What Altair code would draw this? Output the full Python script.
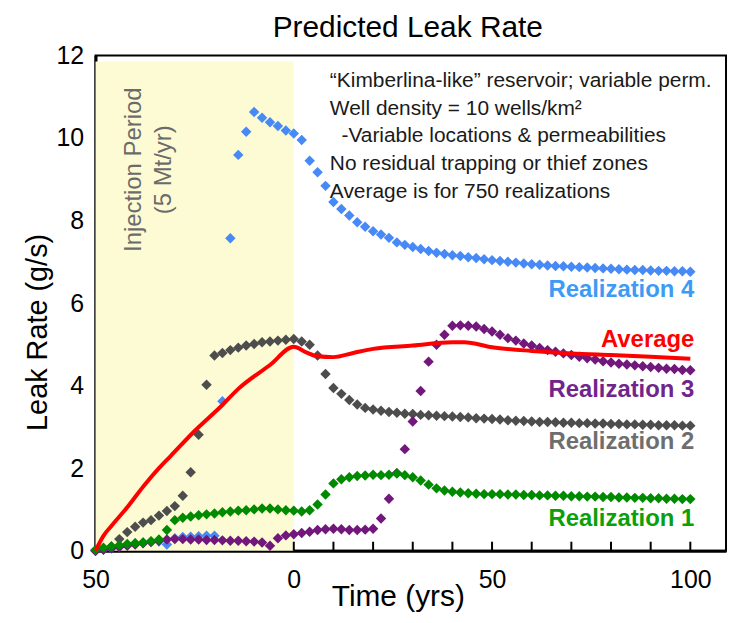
import altair as alt
import pandas as pd

# ---------------- data ----------------
years = list(range(-50, 101, 2))

# Realization 1 (green)
real1 = [0.02, 0.07, 0.10, 0.13, 0.16, 0.18, 0.20, 0.23, 0.27, 0.50,
         0.74, 0.80, 0.83, 0.86, 0.88, 0.90, 0.93, 0.95, 0.97, 0.98,
         1.00, 1.02, 1.02, 1.00, 0.98, 0.97, 0.95, 0.98, 1.12, 1.36,
         1.63, 1.73, 1.78, 1.81, 1.82, 1.84, 1.83, 1.84, 1.87, 1.83,
         1.78, 1.70, 1.60, 1.51, 1.46, 1.43, 1.41, 1.39, 1.38, 1.37,
         1.37, 1.37, 1.36, 1.36, 1.35, 1.35, 1.34, 1.34, 1.33, 1.33,
         1.32, 1.32, 1.31, 1.31, 1.30, 1.30, 1.29, 1.29, 1.28, 1.28,
         1.27, 1.27, 1.26, 1.26, 1.25, 1.25]

# Realization 2 (grey)
real2 = [0.00, 0.03, 0.10, 0.28, 0.45, 0.58, 0.68, 0.74, 0.85, 0.96,
         1.08, 1.33, 1.90, 2.81, 4.02, 4.73, 4.79, 4.86, 4.92, 4.97,
         5.01, 5.05, 5.07, 5.09, 5.11, 5.13, 5.07, 4.99, 4.73, 4.28,
         3.94, 3.80, 3.65, 3.54, 3.46, 3.42, 3.39, 3.36, 3.34, 3.32,
         3.31, 3.29, 3.28, 3.27, 3.26, 3.25, 3.24, 3.23, 3.21, 3.20,
         3.19, 3.18, 3.16, 3.15, 3.14, 3.13, 3.12, 3.12, 3.11, 3.10,
         3.10, 3.09, 3.09, 3.08, 3.08, 3.07, 3.07, 3.06, 3.06, 3.05,
         3.05, 3.04, 3.04, 3.04, 3.03, 3.03]

# Realization 3 (purple)
real3 = [0.00, 0.03, 0.06, 0.09, 0.12, 0.15, 0.18, 0.21, 0.24, 0.27,
         0.28, 0.28, 0.27, 0.27, 0.26, 0.26, 0.25, 0.24, 0.24, 0.23,
         0.22, 0.20, 0.12, 0.30, 0.37, 0.40, 0.43, 0.46, 0.50, 0.52,
         0.53, 0.52, 0.50, 0.50, 0.51, 0.53, 0.78, 1.26, 1.88, 2.46,
         3.13, 3.87, 4.58, 4.99, 5.23, 5.45, 5.46, 5.45, 5.43, 5.37,
         5.31, 5.23, 5.15, 5.09, 5.02, 4.97, 4.91, 4.86, 4.82, 4.78,
         4.74, 4.70, 4.66, 4.63, 4.59, 4.56, 4.53, 4.51, 4.49, 4.47,
         4.45, 4.43, 4.41, 4.40, 4.38, 4.37]

# Realization 4 (blue)
real4 = [0.00, 0.03, 0.06, 0.10, 0.14, 0.18, 0.20, 0.22, 0.22, 0.15,
         0.30, 0.33, 0.34, 0.35, 0.36, 0.36, 3.62, 7.57, 9.59, 10.15,
         10.63, 10.49, 10.38, 10.29, 10.18, 10.11, 9.95, 9.45, 9.17, 8.84,
         8.45, 8.28, 8.12, 7.96, 7.85, 7.74, 7.66, 7.58, 7.47, 7.41,
         7.36, 7.31, 7.26, 7.22, 7.19, 7.16, 7.14, 7.11, 7.09, 7.06,
         7.04, 7.02, 7.00, 6.98, 6.96, 6.94, 6.93, 6.91, 6.90, 6.89,
         6.88, 6.87, 6.86, 6.85, 6.84, 6.83, 6.82, 6.81, 6.80, 6.80,
         6.79, 6.78, 6.78, 6.77, 6.77, 6.76]

# Average of 750 realizations (red line)
avg_t = [-50, -48, -46, -42, -38, -34, -31, -25, -18, -14, -6, 0,
         3, 6, 10, 15, 20, 30, 40, 43, 50, 60, 70, 80, 90, 100]
avg_v = [0.00, 0.36, 0.60, 1.05, 1.55, 2.00, 2.30, 2.90, 3.53, 3.92, 4.50, 4.94,
         4.81, 4.71, 4.69, 4.79, 4.89, 4.97, 5.05, 5.05, 4.93, 4.84, 4.78, 4.74, 4.70, 4.65]

series_names = ["Realization 4", "Realization 2", "Realization 3", "Realization 1"]
series_values = [real4, real2, real3, real1]
marker_colors = ["#4789f5", "#4d4d4d", "#72177c", "#008a00"]

label_names = ["Realization 4", "Average", "Realization 3", "Realization 2", "Realization 1"]
label_y = [6.31, 5.11, 3.90, 2.63, 0.77]
label_colors = ["#3d9bf5", "#ff0000", "#72248a", "#6e6e6e", "#0aa00a"]

injection_start, injection_end = -50, 0
x_ticks = [-50, 0, 50, 100]
minor_ticks = list(range(0, 101, 10))
y_ticks = [0, 2, 4, 6, 8, 10, 12]

chart_title = ["Predicted Leak Rate"]
injection_text = ["Injection Period", "(5 Mt/yr)"]
notes_text = ["\u201cKimberlina-like\u201d reservoir; variable perm.",
              "Well density = 10 wells/km\u00b2",
              "\u200b\u00a0\u00a0-Variable locations & permeabilities",
              "No residual trapping or thief zones",
              "Average is for 750 realizations"]

# ---------------- frames ----------------
rows = []
for name, vals in zip(series_names, series_values):
    for t, v in zip(years, vals):
        rows.append({"series": name, "t": t, "v": v})
pts_df = pd.DataFrame(rows)
avg_df = pd.DataFrame({"t": avg_t, "v": avg_v})
lab_df = pd.DataFrame({"name": label_names, "t": [101] * len(label_names), "v": label_y})
band_df = pd.DataFrame({"t": [injection_start], "t2": [injection_end], "v": [0], "v2": [11.85]})
tick_df = pd.DataFrame({"t": minor_ticks})
title_df = pd.DataFrame({"text": chart_title})

FONT = "Liberation Sans"
x_scale = alt.Scale(domain=[-50, 109], nice=False, zero=False)
y_scale = alt.Scale(domain=[0, 12], nice=False, zero=False)

x_axis = alt.Axis(values=x_ticks, labelExpr="abs(datum.value)", ticks=False, grid=False,
                  domainColor="black", domainWidth=3, labelFontSize=25, labelColor="black",
                  labelPadding=17, labelFlush=False, labelOverlap=False, labelBound=False,
                  title="Time (yrs)", titleFontSize=30, titleFontWeight="normal",
                  titleColor="black", titleX=304, titleY=46, titleAlign="center",
                  titleBaseline="middle")
y_axis = alt.Axis(values=y_ticks, ticks=False, grid=False, domainColor="black", domainWidth=3,
                  labelFontSize=25, labelColor="black", labelPadding=12, labelFlush=False,
                  labelOverlap=False,
                  title="Leak Rate (g/s)", titleFontSize=29, titleFontWeight="normal",
                  titleColor="black", titleX=-58, titleY=278, titleAlign="center",
                  titleBaseline="middle", titleAngle=270)


def X(field="t"):
    return alt.X(f"{field}:Q", scale=x_scale, axis=x_axis)


def Y(field="v"):
    return alt.Y(f"{field}:Q", scale=y_scale, axis=y_axis)


band = alt.Chart(band_df).mark_rect(color="#fdfbd3").encode(
    x=X(), x2="t2:Q", y=Y(), y2="v2:Q")

ticks = alt.Chart(tick_df).mark_rule(color="black", strokeWidth=2).encode(
    x=X(), y=alt.value(498), y2=alt.value(489))

points = alt.Chart(pts_df).mark_point(shape="diamond", filled=True, size=110, opacity=1).encode(
    x=X(), y=Y(),
    color=alt.Color("series:N", scale=alt.Scale(domain=series_names, range=marker_colors), legend=None))

avg_line = alt.Chart(avg_df).mark_line(color="#ff0000", strokeWidth=4, interpolate="monotone").encode(
    x=X(), y=Y())

labels = alt.Chart(lab_df).mark_text(align="right", baseline="middle", fontSize=24,
                                     fontWeight="bold", font=FONT).encode(
    x=X(), y=Y(), text="name:N",
    color=alt.Color("name:N", scale=alt.Scale(domain=label_names, range=label_colors), legend=None))

inj = alt.Chart(pd.DataFrame({"t": [-40.2], "v": [9.23]})).mark_text(
    text=injection_text, angle=270, align="center", baseline="middle", fontSize=24,
    lineHeight=30, color="#6b6b6b", font=FONT).encode(x=X(), y=Y())

notes = alt.Chart(pd.DataFrame({"t": [9.1], "v": [11.37]})).mark_text(
    text=notes_text, align="left", baseline="middle", fontSize=21, lineHeight=27.7,
    color="#1a1a1a", font=FONT).encode(x=X(), y=Y())

title = alt.Chart(title_df).mark_text(align="center", baseline="alphabetic", fontSize=30,
                                      color="black", font=FONT).encode(
    text="text:N", x=alt.value(314), y=alt.value(-19))

chart = alt.layer(band, ticks, points, avg_line, labels, inj, notes, title).resolve_scale(
    color="independent"
).properties(
    width=634, height=498,
    autosize=alt.AutoSizeParams(type="none"),
    padding={"left": 88, "top": 46, "right": 2, "bottom": 66},
).configure(font=FONT, background="white").configure_view(stroke="black", strokeWidth=2)

chart.save("out.html", embed_options={"renderer": "svg", "actions": False})
